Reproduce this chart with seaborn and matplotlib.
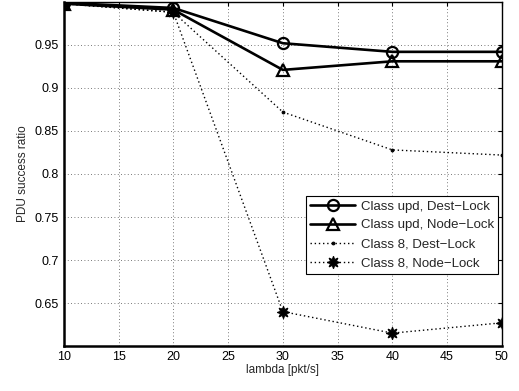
import matplotlib
matplotlib.use("Agg")
import matplotlib.pyplot as plt
import seaborn as sns
import pandas as pd

# data
lam = [10, 20, 30, 40, 50]
upd_dest = [0.999, 0.993, 0.952, 0.942, 0.942]
upd_node = [0.998, 0.991, 0.921, 0.931, 0.931]
c8_dest = [0.998, 0.988, 0.872, 0.828, 0.822]
c8_node = [0.998, 0.988, 0.640, 0.615, 0.627]

labels = ['Class upd, Dest\u2212Lock', 'Class upd, Node\u2212Lock',
          'Class 8, Dest\u2212Lock', 'Class 8, Node\u2212Lock']

sns.set_style("white")
plt.rcParams['font.family'] = ['Liberation Sans', 'DejaVu Sans']

fig, ax = plt.subplots(figsize=(5.19, 3.91), dpi=100)
fig.subplots_adjust(left=0.123, right=0.967, bottom=0.115, top=0.995)

series = [upd_dest, upd_node, c8_dest, c8_node]
styles = [
    dict(linestyle='-', linewidth=1.9, marker='o', markersize=8,
         markerfacecolor='none', markeredgewidth=1.6),
    dict(linestyle='-', linewidth=1.9, marker='^', markersize=9,
         markerfacecolor='none', markeredgewidth=1.6),
    dict(linestyle=(0, (1, 2)), linewidth=1.0, marker='.', markersize=4),
    dict(linestyle=(0, (1, 2)), linewidth=1.0, marker=(8, 1, 0), markersize=9),
]

for vals, lab, st in zip(series, labels, styles):
    df = pd.DataFrame({'lambda': lam, 'ratio': vals})
    sns.lineplot(data=df, x='lambda', y='ratio', ax=ax, color='black',
                 label=lab, markeredgecolor='black', **st)

ax.set_xlim(10, 50)
ax.set_ylim(0.6, 1.0)
ax.set_xticks(range(10, 51, 5))
ax.set_yticks([0.65, 0.7, 0.75, 0.8, 0.85, 0.9, 0.95])
ax.set_yticklabels(['0.65', '0.7', '0.75', '0.8', '0.85', '0.9', '0.95'])
ax.grid(True, linestyle=(0, (1, 3)), color='black', linewidth=0.6, alpha=0.7)
ax.tick_params(direction='in', top=True, right=True, labelsize=9,
               length=3, width=0.8, colors='black')
for sp in ax.spines.values():
    sp.set_color('black')
    sp.set_linewidth(1.0)
ax.spines['left'].set_linewidth(1.8)
ax.spines['bottom'].set_linewidth(1.8)

ax.set_xlabel('lambda [pkt/s]', fontsize=8.5, labelpad=1)
ax.set_ylabel('PDU success ratio', fontsize=8.5, labelpad=4)

leg = ax.legend(loc='lower right', bbox_to_anchor=(0.992, 0.21), fontsize=9.5,
                frameon=True, fancybox=False, edgecolor='black',
                framealpha=1, borderpad=0.35, labelspacing=0.5,
                handlelength=3.4, handletextpad=0.4, borderaxespad=0)
leg.get_frame().set_linewidth(0.8)

fig.savefig('out.png', dpi=100)
